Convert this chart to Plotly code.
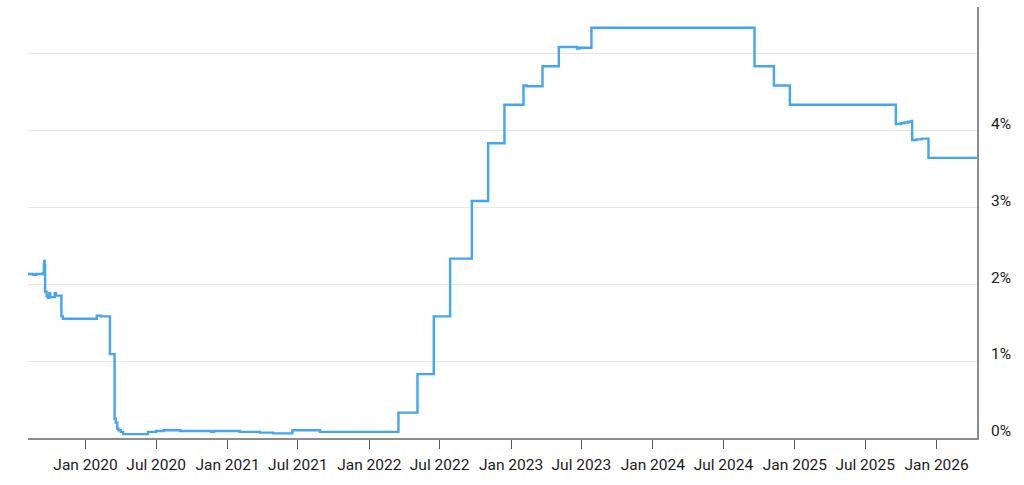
import plotly.graph_objects as go

# Effective rate (%) change points; each value holds until the next date
rate_dates = [
    "2019-08-06", "2019-08-20", "2019-08-27", "2019-09-13", "2019-09-16", "2019-09-17",
    "2019-09-18", "2019-09-19", "2019-09-23", "2019-09-27", "2019-09-30", "2019-10-02",
    "2019-10-14", "2019-10-17", "2019-10-31", "2019-11-04", "2020-01-30", "2020-02-10",
    "2020-03-04", "2020-03-16", "2020-03-19", "2020-03-23", "2020-03-26", "2020-04-01",
    "2020-04-07", "2020-06-10", "2020-07-01", "2020-07-20", "2020-09-01", "2020-11-20",
    "2020-11-27", "2021-02-01", "2021-03-25", "2021-04-28", "2021-06-17", "2021-08-27",
    "2022-03-17", "2022-05-05", "2022-06-16", "2022-07-28", "2022-09-22", "2022-11-03",
    "2022-12-15", "2023-02-02", "2023-02-10", "2023-03-23", "2023-05-04", "2023-06-20",
    "2023-06-26", "2023-07-27", "2024-09-19", "2024-11-08", "2024-12-19", "2025-09-18",
    "2025-10-01", "2025-10-10", "2025-10-20", "2025-10-28", "2025-10-30", "2025-11-10",
    "2025-11-24", "2025-12-11", "2026-04-15",
]
rate_values = [
    2.13, 2.12, 2.13, 2.14, 2.25, 2.30,
    2.25, 1.90, 1.84, 1.82, 1.88, 1.83,
    1.88, 1.85, 1.58, 1.55, 1.59, 1.58,
    1.09, 0.25, 0.20, 0.12, 0.10, 0.08,
    0.05, 0.08, 0.09, 0.10, 0.09, 0.08,
    0.09, 0.08, 0.07, 0.06, 0.10, 0.08,
    0.33, 0.83, 1.58, 2.33, 3.08, 3.83,
    4.33, 4.58, 4.57, 4.83, 5.08, 5.06,
    5.07, 5.33, 4.83, 4.58, 4.33, 4.08,
    4.09, 4.10, 4.11, 4.12, 3.87, 3.88,
    3.89, 3.64, 3.64,
]

x_tick_dates = ["2020-01-01", "2020-07-01", "2021-01-01", "2021-07-01", "2022-01-01",
                "2022-07-01", "2023-01-01", "2023-07-01", "2024-01-01", "2024-07-01",
                "2025-01-01", "2025-07-01", "2026-01-01"]
x_tick_labels = ["Jan 2020", "Jul 2020", "Jan 2021", "Jul 2021", "Jan 2022", "Jul 2022",
                 "Jan 2023", "Jul 2023", "Jan 2024", "Jul 2024", "Jan 2025", "Jul 2025",
                 "Jan 2026"]
y_tick_values = [0, 1, 2, 3, 4, 5]
y_tick_labels = ["0%", "1%", "2%", "3%", "4%", ""]

fig = go.Figure()
fig.add_trace(go.Scatter(
    x=rate_dates, y=rate_values, mode="lines", line_shape="hv",
    line=dict(color="#42A5F5", width=2.4), hoverinfo="x+y", showlegend=False,
))

fig.update_layout(
    width=1024, height=485,
    margin=dict(l=28, r=47, t=7, b=47),
    paper_bgcolor="white", plot_bgcolor="white",
    font=dict(family="Roboto, sans-serif", size=15.5, color="#1a1a1a"),
    xaxis=dict(
        type="date", range=["2019-08-06", "2026-04-15"],
        tickmode="array", tickvals=x_tick_dates, ticktext=x_tick_labels,
        ticks="outside", ticklen=9, tickcolor="#555555", tickwidth=1,
        showgrid=False, zeroline=False,
        showline=True, linecolor="#8c8c8c", linewidth=2,
        ticklabelstandoff=2,
    ),
    yaxis=dict(
        side="right", range=[0, 5.6],
        tickmode="array", tickvals=y_tick_values, ticktext=y_tick_labels,
        ticks="", showgrid=True, gridcolor="#e8e8e8", gridwidth=1,
        zeroline=False, showline=True, linecolor="#8c8c8c", linewidth=2,
        ticklabelstandoff=9, ticklabelshift=-7,
    ),
)

fig.write_html(
    "out.html",
    config={"displayModeBar": False},
    post_script="document.body.style.margin='0';document.body.style.overflow='hidden';",
)
